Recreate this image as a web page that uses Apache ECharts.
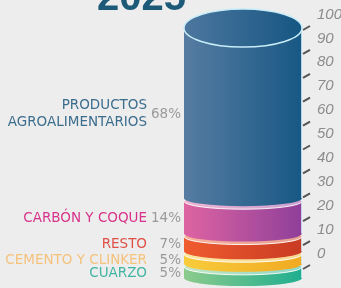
<!DOCTYPE html>
<html><head><meta charset="utf-8">
<script src="https://cdn.jsdelivr.net/npm/echarts@6/dist/echarts.min.js"></script>
<style>html,body{margin:0;padding:0;background:#ededed}#c{width:341px;height:288px}</style>
</head><body><div id="c"></div>
<script>
const titleText = '2025';
const categories = ['CUARZO', 'CEMENTO Y CLINKER', 'RESTO', 'CARBÓN Y COQUE', 'PRODUCTOS\nAGROALIMENTARIOS'];
const values = [5, 5, 7, 14, 68];
const tickValues = [0, 10, 20, 30, 40, 50, 60, 70, 80, 90, 100];

const sideColors = [['#8ccb8c', '#1fae90'], ['#f8cc3c', '#f1aa22'], ['#ef5c2e', '#c93b23'], ['#de64a2', '#8f3f9a'], ['#577ca2', '#175884']];
const topColors = [['#c4e6c4', '#8fd6c6'], ['#fce6a0', '#f8d690'], ['#f7b09a', '#e8a090'], ['#f0b4d2', '#c9a0cf'], ['#4d779f', '#155682']];
const labelColors = ['#3fb5a2', '#f5c27c', '#df5046', '#d8338a', '#3b6d8d'];

let cum = 0;
const segData = values.map((v, i) => { const s = cum; cum += v; return [s, cum, i]; });
const total = cum;

function ellipsePath(cx, cy, rx, ry) {
  return 'M' + (cx - rx) + ' ' + cy + ' A' + rx + ' ' + ry + ' 0 1 0 ' + (cx + rx) + ' ' + cy +
    ' A' + rx + ' ' + ry + ' 0 1 0 ' + (cx - rx) + ' ' + cy + ' Z';
}
function grad(c) {
  return new echarts.graphic.LinearGradient(0, 0, 1, 0, [{ offset: 0, color: c[0] }, { offset: 1, color: c[1] }]);
}

const chart = echarts.init(document.getElementById('c'), null, { renderer: 'canvas' });

const gridTop = 28, gridBottom = 21, chartH = 288;
const cylScale = 250 / total;
const cylMin = total - (chartH - gridTop - gridBottom) / cylScale;

chart.setOption({
  backgroundColor: '#ededed',
  animation: false,
  title: {
    text: titleText, left: 97, top: -21, padding: 0,
    textStyle: { fontFamily: 'Liberation Sans', fontWeight: 'bold', fontSize: 40, color: '#1d5a78' }
  },
  grid: { left: 184, right: 39, top: gridTop, bottom: gridBottom, containLabel: false, outerBoundsMode: 'none' },
  xAxis: { type: 'value', min: 0, max: 1, show: false },
  yAxis: [
    {
      type: 'value', min: 0, max: 100, interval: 10, position: 'right',
      axisLine: { show: false }, axisTick: { show: false }, splitLine: { show: false },
      axisLabel: {
        margin: 15, color: '#8c8c8c', fontStyle: 'italic', fontSize: 15, fontFamily: 'Liberation Sans',
        verticalAlign: 'bottom', padding: [0, 0, 6, 0]
      }
    },
    { type: 'value', min: cylMin, max: total, show: false }
  ],
  series: [
    {
      type: 'custom', yAxisIndex: 1, data: segData, clip: false,
      renderItem: function (params, api) {
        const start = api.value(0), end = api.value(1), i = api.value(2);
        const isTop = i === values.length - 1, isBottom = i === 0;
        const gap = 3;
        const pL = api.coord([0, start]), pR = api.coord([1, start]);
        const yBot = pL[1] - (isBottom ? 0 : gap / 2);
        const yTop = api.coord([0, end])[1] + (isTop ? 0 : gap / 2);
        const xL = pL[0], xR = pR[0], cx = (xL + xR) / 2, rx = (xR - xL) / 2;
        const ry = 8, ryTop = isTop ? 19 : 8;
        const sidePath = 'M' + xL + ' ' + yTop + ' L' + xL + ' ' + yBot + ' A' + rx + ' ' + ry + ' 0 0 0 ' + xR + ' ' + yBot +
          ' L' + xR + ' ' + yTop + ' Z';
        const z = i * 10;
        const midY = (yTop + yBot) / 2 + 1;
        return {
          type: 'group',
          children: [
            { type: 'path', z2: z, shape: { pathData: sidePath }, style: { fill: grad(sideColors[i]) } },
            { type: 'line', z2: z + 1, shape: { x1: xR - 0.5, y1: yTop, x2: xR - 0.5, y2: yBot }, style: { stroke: 'rgba(205,236,248,0.85)', lineWidth: 1 } },
            {
              type: 'path', z2: z + 2, shape: { pathData: ellipsePath(cx, yTop, rx, ryTop) },
              style: { fill: grad(topColors[i]), stroke: isTop ? '#c8ecf8' : 'rgba(255,255,255,0.9)', lineWidth: isTop ? 1.5 : 1 }
            },
            {
              type: 'text', z2: z + 3,
              style: {
                text: categories[i], x: xL - 37, y: midY, align: 'right', verticalAlign: 'middle',
                fill: labelColors[i], fontSize: 13.5, fontFamily: 'DejaVu Sans', lineHeight: 17
              }
            },
            {
              type: 'text', z2: z + 3,
              style: {
                text: values[i] + '%', x: xL - 3, y: midY, align: 'right', verticalAlign: 'middle',
                fill: '#9a9a9a', fontSize: 13.5, fontFamily: 'DejaVu Sans'
              }
            }
          ]
        };
      }
    },
    {
      type: 'custom', yAxisIndex: 0, data: tickValues.map(v => [1, v]), clip: false,
      renderItem: function (params, api) {
        const p = api.coord([api.value(0), api.value(1)]);
        return {
          type: 'line', shape: { x1: p[0] + 1, y1: p[1] + 2, x2: p[0] + 8, y2: p[1] - 2 },
          style: { stroke: '#555', lineWidth: 2 }
        };
      }
    }
  ]
});
</script>
</body></html>
